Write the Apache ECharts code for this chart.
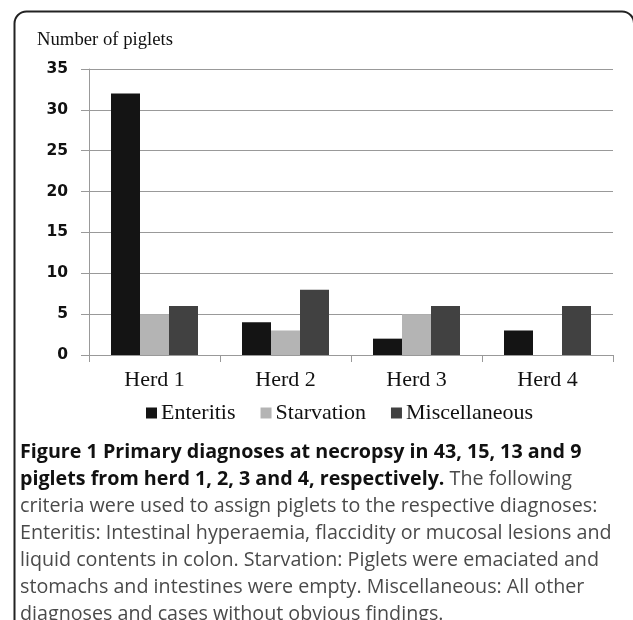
<!DOCTYPE html>
<html><head><meta charset="utf-8">
<script src="https://cdn.jsdelivr.net/npm/echarts@6/dist/echarts.min.js"></script>
<style>html,body{margin:0;padding:0;background:#fff}#c{width:633px;height:620px}</style>
</head><body><div id="c"></div>
<script>
const categories = ['Herd 1', 'Herd 2', 'Herd 3', 'Herd 4'];
const enteritis = [32, 4, 2, 3];
const starvation = [5, 3, 5, 0];
const miscellaneous = [6, 8, 6, 6];
const yTicks = [0, 5, 10, 15, 20, 25, 30, 35];
const captionBold1 = 'Figure 1 Primary diagnoses at necropsy in 43, 15, 13 and 9';
const captionBold2 = 'piglets from herd 1, 2, 3 and 4, respectively.';
const captionLines = [
  ' The following',
  'criteria were used to assign piglets to the respective diagnoses:',
  'Enteritis: Intestinal hyperaemia, flaccidity or mucosal lesions and',
  'liquid contents in colon. Starvation: Piglets were emaciated and',
  'stomachs and intestines were empty. Miscellaneous: All other',
  'diagnoses and cases without obvious findings.'
];

const chart = echarts.init(document.getElementById('c'));
const serif = '"Liberation Serif", "Times New Roman", serif';
const capFont = '"Open Sans", "Noto Sans", sans-serif';
const capSize = 19.7;
const capStyle = {fontFamily: capFont, fontSize: capSize, fill: '#4a4a4a'};
const capTop = 442, capStep = 27.1;
const graphics = [
  {type: 'rect', silent: true,
   shape: {x: 14.5, y: 11.5, width: 619.5, height: 700, r: [12, 12, 0, 0]},
   style: {fill: 'none', stroke: '#222', lineWidth: 2}},
  {type: 'text', left: 20, top: capTop, style: {text: captionBold1, fontFamily: capFont, fontSize: capSize, fontWeight: 'bold', fill: '#111'}},
  {type: 'text', left: 20, top: capTop + capStep, style: {
    text: '{b|' + captionBold2 + '}{r|' + captionLines[0] + '}',
    rich: {b: {fontFamily: capFont, fontSize: capSize, fontWeight: 'bold', fill: '#111'},
           r: {fontFamily: capFont, fontSize: capSize, fill: '#4a4a4a'}}}}
];
for (let i = 1; i < captionLines.length; i++) {
  graphics.push({type: 'text', left: 20, top: capTop + (i + 1) * capStep, style: Object.assign({text: captionLines[i]}, capStyle)});
}
graphics.push({type: 'text', left: 37, top: 31, style: {text: 'Number of piglets', fontFamily: serif, fontSize: 18.7, fill: '#111'}});

const barItem = (c) => ({color: c});
chart.setOption({
  animation: false,
  grid: {left: 89, right: 20, top: 69, bottom: 265, containLabel: false},
  legend: {
    top: 396, left: 141, itemWidth: 11, itemHeight: 11, itemGap: 25,
    icon: 'rect',
    textStyle: {fontFamily: serif, fontSize: 22, lineHeight: 24, color: '#111', padding: [0, 0, 0, -1]},
    data: ['Enteritis', 'Starvation', 'Miscellaneous']
  },
  xAxis: {
    type: 'category', data: categories,
    axisLine: {lineStyle: {color: '#999', width: 1}},
    axisTick: {show: true, length: 7, lineStyle: {color: '#999'}},
    axisLabel: {fontFamily: serif, fontSize: 22, color: '#111', margin: 14}
  },
  yAxis: {
    type: 'value', min: 0, max: 35, interval: 5,
    axisLine: {show: true, lineStyle: {color: '#999'}},
    axisTick: {show: true, length: 8, lineStyle: {color: '#999'}},
    splitLine: {lineStyle: {color: '#999', width: 1}},
    axisLabel: {fontFamily: '"DejaVu Sans", sans-serif', fontWeight: 'bold', fontSize: 15.5, color: '#111', margin: 21,
      formatter: v => yTicks.includes(v) ? String(v) : ''}
  },
  series: [
    {name: 'Enteritis', type: 'bar', data: enteritis, barWidth: 29, barGap: '0%', itemStyle: barItem('#141414')},
    {name: 'Starvation', type: 'bar', data: starvation, barWidth: 29, barGap: '0%', itemStyle: barItem('#b4b4b4')},
    {name: 'Miscellaneous', type: 'bar', data: miscellaneous, barWidth: 29, barGap: '0%', itemStyle: barItem('#414141')}
  ],
  graphic: graphics
});
</script></body></html>
